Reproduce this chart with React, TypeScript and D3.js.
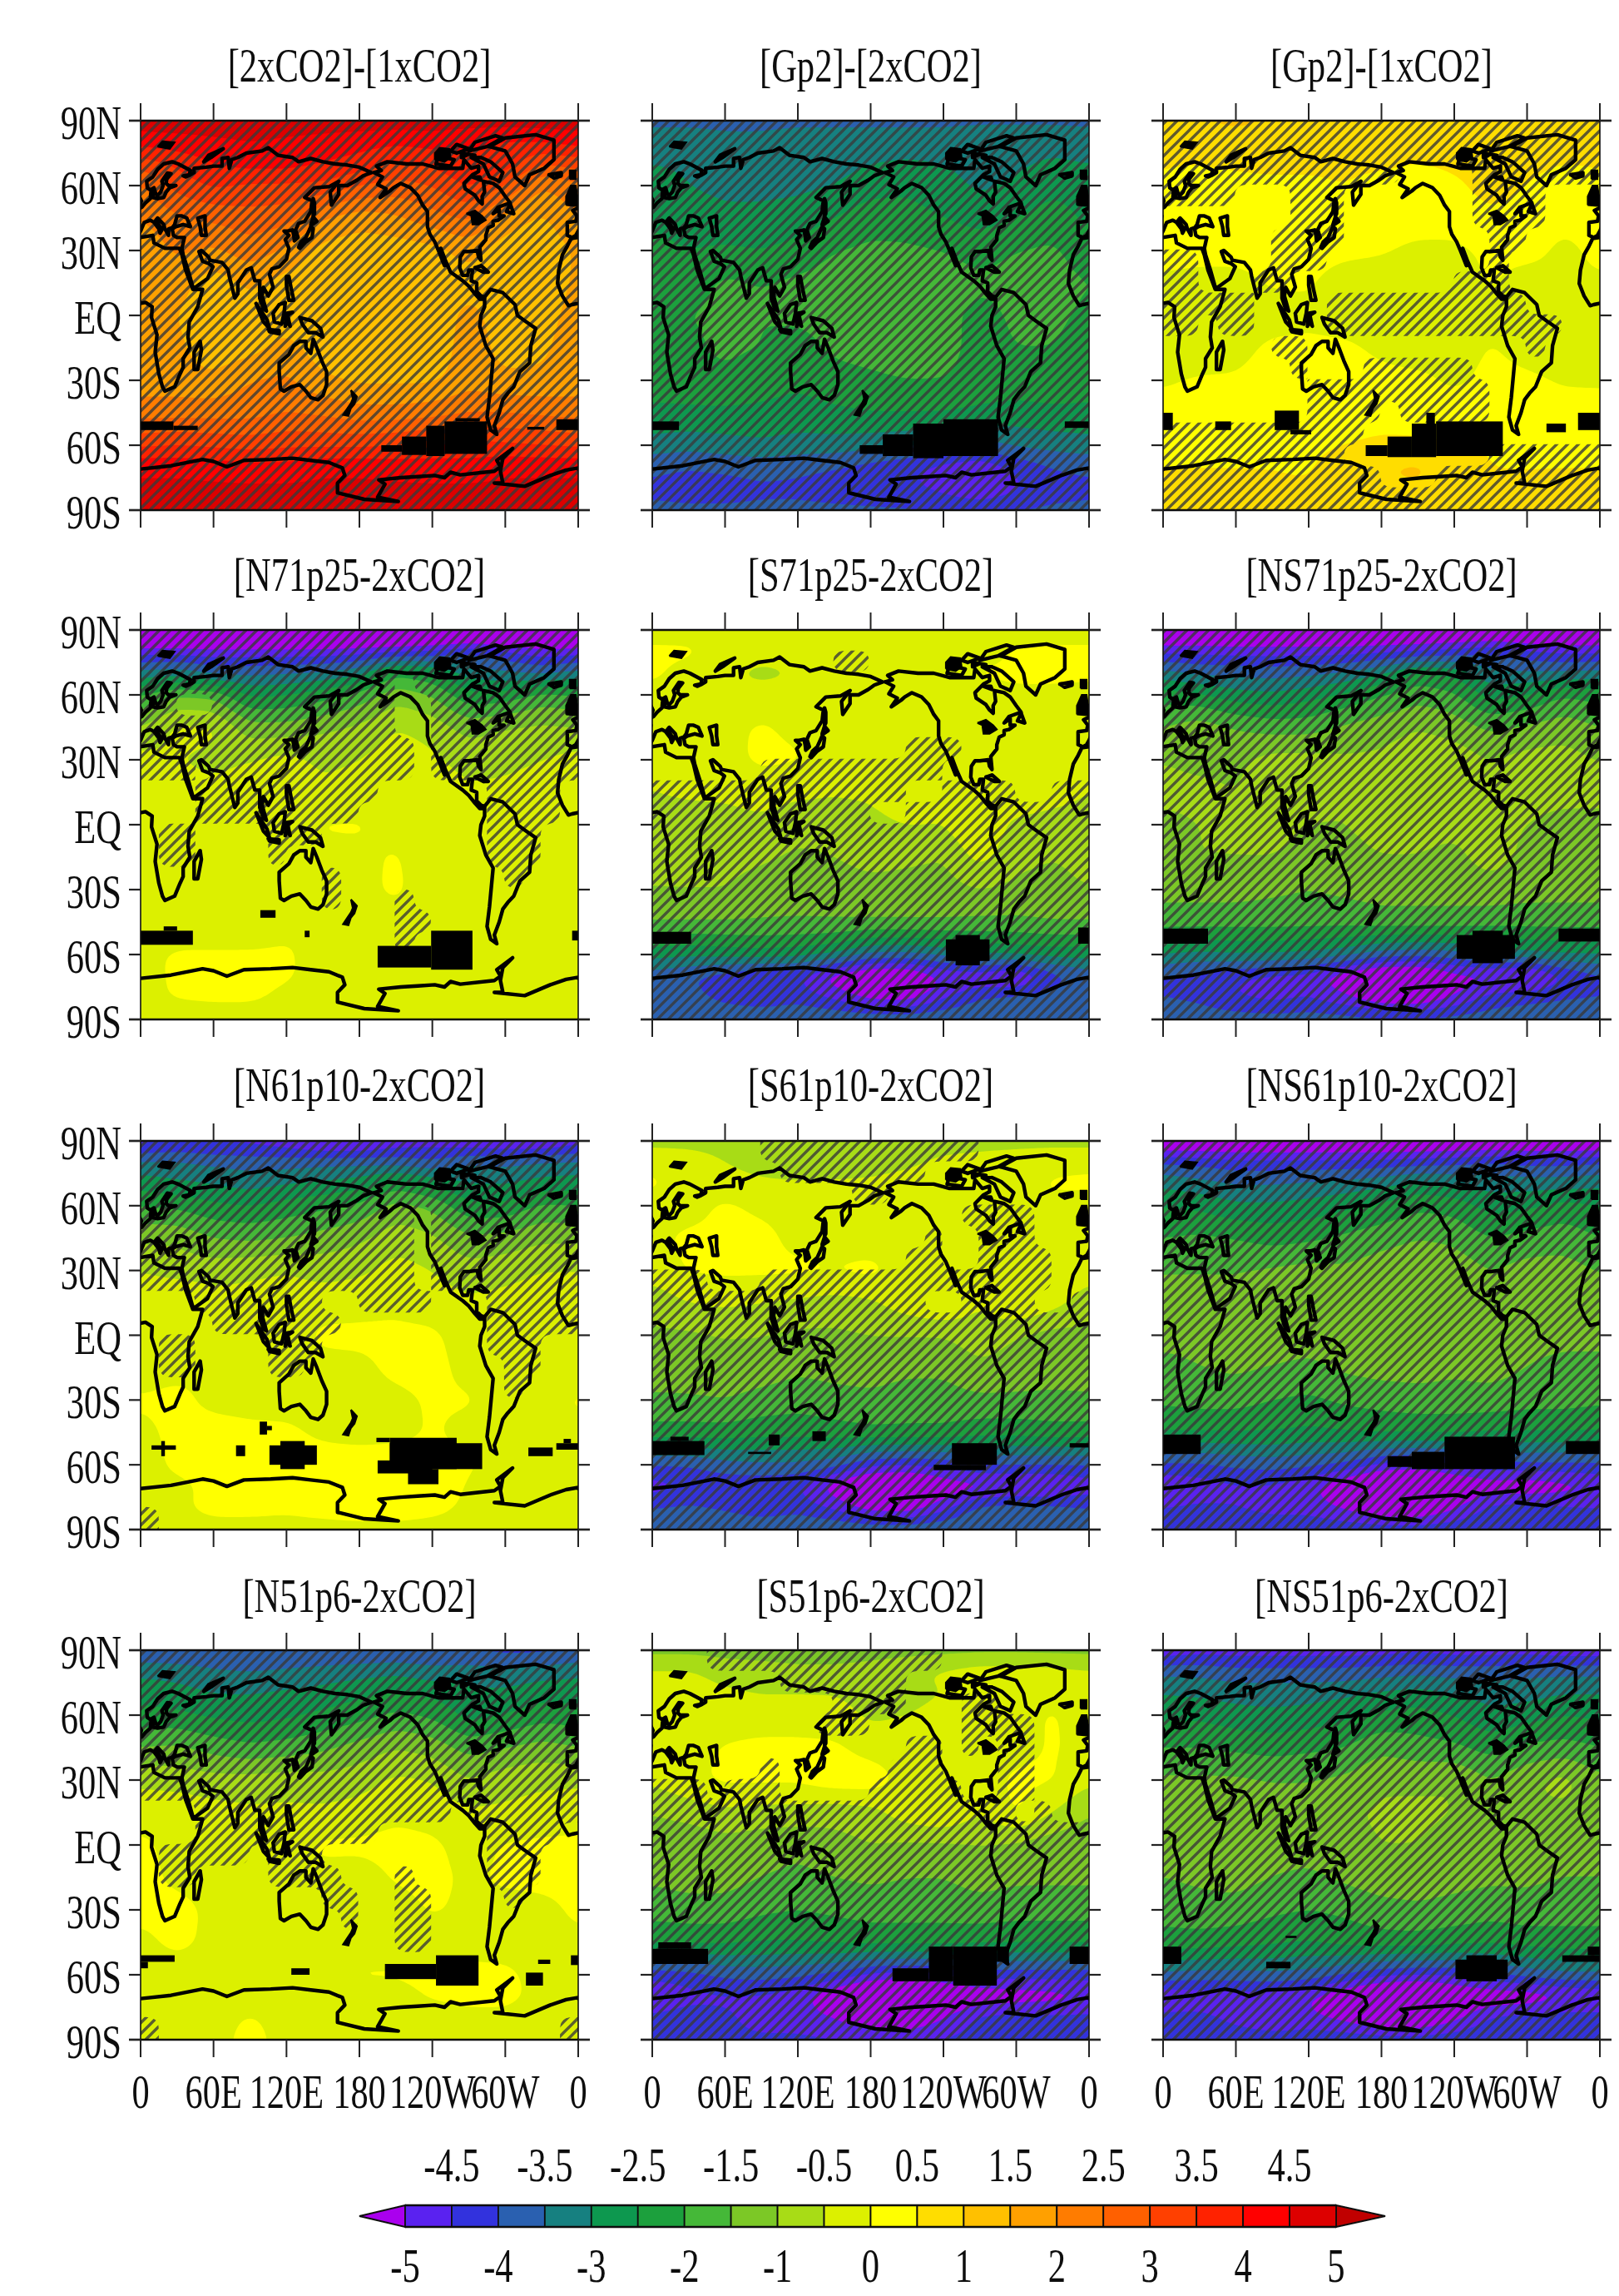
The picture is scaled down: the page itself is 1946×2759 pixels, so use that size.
import React from "react";
import * as d3 from "d3";

const TITLES = [
  "[2xCO2]-[1xCO2]", "[Gp2]-[2xCO2]", "[Gp2]-[1xCO2]",
  "[N71p25-2xCO2]", "[S71p25-2xCO2]", "[NS71p25-2xCO2]",
  "[N61p10-2xCO2]", "[S61p10-2xCO2]", "[NS61p10-2xCO2]",
  "[N51p6-2xCO2]", "[S51p6-2xCO2]", "[NS51p6-2xCO2]",
];
const X_TICKS = [0, 60, 120, 180, 240, 300, 360];
const X_LABELS = ["0", "60E", "120E", "180", "120W", "60W", "0"];
const Y_TICKS = [90, 60, 30, 0, -30, -60, -90];
const Y_LABELS = ["90N", "60N", "30N", "EQ", "30S", "60S", "90S"];
const LEVELS = [-5, -4.5, -4, -3.5, -3, -2.5, -2, -1.5, -1, -0.5, 0, 0.5, 1, 1.5, 2, 2.5, 3, 3.5, 4, 4.5, 5];
const BAND_COLORS = ["#aa00ee", "#5a20f0", "#3333dd", "#2a60b0", "#148080", "#0e9850", "#1aa03c", "#44b838", "#7cc828", "#a8dc18", "#dcf000", "#ffff00", "#ffdd00", "#ffc000", "#ffa000", "#ff7c00", "#ff6000", "#ff4000", "#ff2000", "#ff0000", "#dd0000", "#c00000"];
const BAR_BOTTOM = [-5, -4, -3, -2, -1, 0, 1, 2, 3, 4, 5];
const BAR_TOP = [-4.5, -3.5, -2.5, -1.5, -0.5, 0.5, 1.5, 2.5, 3.5, 4.5];

const LATS = [90, 80, 70, 60, 45, 30, 15, 0, -15, -30, -45, -60, -70, -80, -90];
const LONS = [0, 30, 60, 90, 120, 150, 180, 210, 240, 270, 300, 330];

const F1 = [
  [4.8,4.8,4.8,4.8,4.8,4.8,4.8,4.8,4.8,4.8,4.8,4.8],
  [4.2,4.3,4.4,4.5,4.4,4.3,4.2,4.1,4.2,4.0,3.9,4.0],
  [3.2,3.6,4,4.2,4.2,4.0,3.8,3.4,3.6,4.0,3.8,3.0],
  [2.4,3.2,3.6,3.4,3.4,3.4,3.0,2.8,3.0,3.6,3.0,2.0],
  [2.0,2.4,2.6,2.8,2.7,2.0,1.7,1.9,2.3,2.6,1.8,1.4],
  [1.6,2.1,1.9,2.3,1.9,1.3,1.2,1.2,1.3,1.7,1.2,1.1],
  [1.6,1.7,1.2,1.6,1.3,1.1,1.1,1.1,1.1,1.3,1.1,1.2],
  [1.7,1.5,1.2,1.3,1.2,1.1,1.1,1.1,1.1,1.7,1.2,1.3],
  [1.8,1.6,1.2,1.3,1.7,1.2,1.1,1.1,1.1,1.8,1.3,1.4],
  [1.7,1.7,1.6,2.0,2.1,1.6,1.4,1.4,1.4,1.8,1.6,1.6],
  [2.3,2.3,2.3,2.3,2.5,2.4,2.2,2.2,2.3,2.5,2.5,2.4],
  [3.4,3.5,3.4,3.3,3.4,3.4,3.4,3.5,3.7,3.7,3.6,3.5],
  [4.4,4.4,4.3,4.2,4.2,4.4,4.4,4.3,4.2,4.2,4.4,4.4],
  [4.6,4.6,4.6,4.6,4.6,4.6,4.6,4.6,4.6,4.6,4.6,4.6],
  [4.8,4.8,4.8,4.8,4.8,4.8,4.8,4.8,4.8,4.8,4.8,4.8],
];
const F2 = [
  [-3.6,-3.6,-3.6,-3.6,-3.6,-3.6,-3.6,-3.6,-3.6,-3.6,-3.6,-3.6],
  [-3.3,-3.3,-3.4,-3.4,-3.3,-3.3,-3.3,-3.3,-3.3,-3.2,-3.2,-3.2],
  [-3.0,-3.1,-3.2,-3.3,-3.3,-3.2,-3.0,-2.9,-3.0,-3.2,-3.1,-2.9],
  [-2.7,-3.0,-3.1,-3.1,-3.1,-3.0,-2.7,-2.6,-2.8,-3.1,-2.9,-2.6],
  [-2.6,-2.8,-2.9,-2.9,-2.8,-2.5,-2.2,-2.3,-2.5,-2.7,-2.5,-2.3],
  [-2.3,-2.5,-2.4,-2.5,-2.3,-2.0,-1.9,-1.9,-2.0,-2.2,-2.0,-1.9],
  [-2.0,-2.2,-1.9,-2.0,-1.9,-1.8,-1.8,-1.7,-1.7,-1.9,-1.8,-1.8],
  [-2.1,-2.0,-1.9,-2.0,-1.9,-1.8,-1.7,-1.7,-1.8,-2.2,-1.9,-1.9],
  [-2.2,-2.1,-1.9,-2.0,-2.2,-1.9,-1.8,-1.7,-1.8,-2.2,-2.0,-2.0],
  [-2.3,-2.2,-2.1,-2.3,-2.4,-2.2,-2.1,-2.0,-2.0,-2.2,-2.2,-2.2],
  [-2.6,-2.6,-2.6,-2.6,-2.7,-2.6,-2.5,-2.5,-2.5,-2.6,-2.7,-2.6],
  [-3.2,-3.3,-3.2,-3.1,-3.2,-3.2,-3.3,-3.4,-3.6,-3.7,-3.4,-3.3],
  [-3.9,-4.0,-3.9,-3.8,-3.9,-4,-4.2,-4.4,-4.7,-4.9,-4.4,-4.0],
  [-4.1,-4.2,-4.2,-4.1,-4.1,-4.2,-4.3,-4.4,-4.7,-5.2,-4.6,-4.2],
  [-3.9,-3.9,-3.9,-3.9,-3.9,-3.9,-3.9,-3.9,-3.9,-3.9,-3.9,-3.9],
];
const F3 = [
  [.9,1.0,1.1,1.0,.9,.9,.9,.8,.8,.8,.8,.9],
  [.7,.8,.8,.8,.7,.7,.7,.7,.6,.6,.7,.7],
  [.5,.5,.6,.7,.6,.6,.6,.5,.6,.7,.6,.5],
  [.5,.3,.3,.3,.4,.5,.3,.2,.4,.7,.5,.3],
  [.2,.2,.2,.2,.3,.3,.2,.2,.2,.4,.3,.1],
  [.1,.1,.1,.1,.15,.1,.05,-.1,-.1,.1,.15,-.1],
  [-.05,-.1,-.1,.05,.05,-.2,-.25,-.3,-.25,.05,-.2,-.1],
  [-.2,-.25,-.3,-.2,-.1,-.25,-.3,-.35,-.2,-.2,-.25,-.25],
  [-.25,-.25,-.15,.1,.1,.1,-.1,-.3,-.3,.05,-.2,-.3],
  [-.05,.05,.05,.2,.2,.2,.15,.15,-.1,.15,.1,-.05],
  [.15,.2,.2,.2,.25,.25,.3,.25,.25,.3,.25,.2],
  [.35,.35,.35,.35,.4,.5,.6,.6,.5,.45,.35,.35],
  [.5,.5,.5,.5,.45,.75,1.0,1.1,.8,.5,.5,.5],
  [.6,.6,.6,.55,.55,.7,.9,.95,.7,.55,.55,.6],
  [.6,.6,.6,.6,.6,.6,.6,.6,.6,.6,.6,.6],
];
const F4 = [
  [-6.5,-6.5,-6.5,-6.5,-6.5,-6.5,-6.5,-6.5,-6.5,-6.5,-6.5,-6.5],
  [-4.7,-4.7,-4.8,-4.8,-4.8,-4.8,-4.7,-4.6,-4.4,-4.0,-4.4,-4.8],
  [-3.3,-3.2,-3.6,-3.6,-3.5,-3.4,-3.1,-2.0,-2.4,-3.2,-3.4,-3.6],
  [-2.0,-1.5,-1.6,-2.6,-2.5,-2.2,-1.8,-1.2,-1.5,-2.4,-2.3,-1.8],
  [-1.0,-.35,-.4,-1.3,-1.3,-1.1,-.9,-.5,-.7,-1.2,-1.0,-.9],
  [-.3,-.5,-.6,-.5,-.3,-.6,-.5,-.2,-.4,-.7,-.6,-.5],
  [-.2,-.3,-.4,-.3,-.3,-.4,-.3,-.2,-.2,-.4,-.4,-.3],
  [-.2,-.25,-.3,-.25,-.2,.05,.05,-.15,-.2,-.25,-.25,-.2],
  [.05,-.25,-.25,-.25,-.2,-.15,-.1,.05,-.25,-.3,-.25,-.2],
  [-.2,-.25,-.25,-.25,-.25,-.2,-.15,.1,-.3,-.25,-.2,-.2],
  [-.25,-.25,-.25,-.25,-.1,.05,-.2,-.2,-.2,-.2,-.25,-.25],
  [-.1,.05,.05,.05,.05,-.15,-.2,-.2,-.2,-.1,.05,-.15],
  [-.1,.05,.1,.1,.05,-.15,-.2,-.2,-.2,-.2,-.2,-.2],
  [-.15,.05,.1,.1,-.1,-.2,-.2,-.25,-.25,-.25,-.25,-.2],
  [-.3,-.3,-.3,-.3,-.3,-.3,-.3,-.3,-.3,-.3,-.3,-.3],
];
const F5 = [
  [-.2,-.2,-.2,-.2,-.2,-.2,-.2,-.2,-.2,-.2,-.2,-.2],
  [.1,.1,-.15,-.2,-.2,-.2,-.2,-.2,-.2,-.2,.05,.1],
  [.1,-.2,-.4,-.7,-.5,-.4,-.5,-.3,-.15,.05,.1,.1],
  [-.15,-.2,-.3,-.2,-.2,-.25,-.2,-.2,-.2,-.2,-.1,-.1],
  [-.3,-.2,-.1,.05,-.1,-.2,-.2,-.2,-.2,-.3,-.2,-.2],
  [-.4,-.3,-.15,.1,.05,-.25,-.3,-.2,-.2,-.3,-.2,-.15],
  [-.5,-.4,-.4,-.3,-.4,-.45,-.4,.05,-.3,-.45,.1,-.2],
  [-.8,-.8,-.7,-.6,-.8,-.8,-.7,-.5,-.5,.1,-.7,-.8],
  [-.9,-.8,-.8,-.9,-1.1,-1,-.8,-.9,-1,-.3,-.9,-1],
  [-1.0,-1,-1,-1.3,-1.4,-1.3,-1.2,-1.2,-1.2,-1,-1.1,-1.1],
  [-1.5,-1.5,-1.5,-1.5,-1.5,-1.5,-1.5,-1.5,-1.5,-1.6,-1.6,-1.5],
  [-2.8,-2.9,-2.8,-2.7,-2.8,-3,-3.6,-3.6,-3.4,-3,-2.9,-2.8],
  [-3.8,-4.0,-4.3,-4.6,-4.5,-5.4,-5.8,-5.8,-5.0,-5.0,-5.3,-4.3],
  [-3.7,-3.8,-4.2,-4.4,-4.2,-4.6,-5.2,-5.3,-4.6,-4,-3.8,-3.7],
  [-3.5,-3.5,-3.5,-3.5,-3.5,-3.5,-3.5,-3.5,-3.5,-3.5,-3.5,-3.5],
];
const F6 = [
  [-6,-6,-6,-6,-6,-6,-6,-6,-6,-6,-6,-6],
  [-4.6,-4.6,-4.7,-4.7,-4.7,-4.7,-4.6,-4.5,-4.3,-4.0,-4.4,-4.6],
  [-3.3,-3.6,-3.6,-3.7,-3.6,-3.4,-3.0,-2.3,-2.6,-3.4,-3.4,-3.4],
  [-2.2,-2.4,-2.8,-2.9,-2.7,-2.4,-2,-1.7,-1.9,-2.7,-2.5,-2],
  [-1.5,-1.2,-1.5,-1.7,-1.7,-1.4,-1.2,-1,-1.2,-1.6,-1.4,-1.2],
  [-1,-1.1,-1.1,-.8,-.8,-.9,-.9,-.7,-.7,-1,-.8,-.8],
  [-.9,-.9,-1,-.8,-.9,-1,-.9,-.7,-.8,-1,-.9,-.9],
  [-1.1,-1,-.9,-.8,-1,-1,-.9,-.9,-.9,-.9,-1,-1.1],
  [-1.1,-1,-1,-1,-1.2,-1.1,-1,-1,-1.1,-.8,-1.1,-1.1],
  [-1.3,-1.3,-1.3,-1.4,-1.5,-1.4,-1.3,-1.3,-1.3,-1.2,-1.3,-1.3],
  [-1.8,-1.8,-1.8,-1.8,-1.8,-1.8,-1.7,-1.7,-1.7,-1.8,-1.8,-1.8],
  [-3,-3.1,-3,-3,-3.1,-3.3,-3.7,-3.8,-3.7,-3.3,-3.1,-3],
  [-4.1,-4.3,-4.5,-4.7,-4.8,-5.5,-6,-6,-5.3,-5.2,-5.5,-4.6],
  [-4,-4.1,-4.5,-4.7,-4.5,-4.9,-5.5,-5.6,-5,-4.3,-4.1,-4],
  [-3.7,-3.7,-3.7,-3.7,-3.7,-3.7,-3.7,-3.7,-3.7,-3.7,-3.7,-3.7],
];
const F7 = [
  [-4.8,-4.6,-4.7,-4.7,-4.9,-5.3,-5.3,-4.9,-4.8,-5,-5.1,-5.2],
  [-3.4,-3.4,-3.6,-3.7,-3.7,-3.6,-3.6,-3.7,-3.9,-3.5,-3.6,-3.4],
  [-2.7,-2.9,-3,-3.2,-3,-2.9,-2.7,-2.2,-2.6,-3,-3,-2.8],
  [-2,-2.1,-2.4,-2.5,-2.3,-2.1,-1.9,-1.3,-1.6,-2.4,-2.4,-1.9],
  [-1.1,-1.1,-1.5,-1.6,-1.5,-1.3,-1.1,-.7,-.9,-1.4,-1.3,-1.1],
  [-.5,-.7,-.7,-.6,-.5,-.7,-.6,-.3,-.5,-.8,-.7,-.5],
  [-.15,.05,-.3,-.3,-.25,-.2,-.15,-.1,-.25,-.4,-.3,-.2],
  [-.2,-.1,-.2,-.25,-.2,.1,.1,.1,.1,-.25,-.25,-.2],
  [-.2,-.1,-.05,-.15,-.2,-.15,-.1,.1,.15,-.15,-.2,-.2],
  [.05,.1,-.1,-.15,-.2,-.2,-.15,-.1,.05,.05,-.2,-.1],
  [-.1,.1,.15,.1,.1,-.1,-.2,-.15,.05,-.15,-.2,-.1],
  [-.2,.1,.15,.15,.2,.25,.3,.3,.2,.05,-.15,-.2],
  [-.2,-.1,.1,.1,.1,.2,.4,.5,.3,-.05,-.2,-.25],
  [-.2,-.1,.15,.15,.1,.2,.3,.3,.15,-.1,-.2,-.2],
  [-.2,-.2,-.2,-.2,-.2,-.2,-.2,-.2,-.2,-.2,-.2,-.2],
];
const F8 = [
  [-.7,-.7,-.7,-.7,-.7,-.7,-.7,-.7,-.7,-.7,-.7,-.7],
  [-.1,-.2,-.5,-.7,-.9,-.8,-.7,-.6,-.4,-.3,-.2,-.1],
  [.1,-.2,-.3,-.4,-.4,-.4,-.4,-.3,-.2,-.2,-.1,.05],
  [-.2,-.2,.1,-.1,-.2,-.3,-.3,-.2,-.2,-.5,-.1,-.1],
  [-.1,.1,.1,.15,-.15,-.25,-.25,-.25,-.2,-.4,-.2,-.2],
  [-.3,.05,.1,.1,.1,.05,.15,-.2,-.2,-.3,-.2,.05],
  [-.8,-.5,-.4,-.5,-.6,-.7,-.6,-.2,.1,-.5,.1,-.3],
  [-1.1,-1.1,-1,-1,-1.1,-1.1,-1,-1,-1,-.7,-1,-1.2],
  [-1.2,-1.1,-1.1,-1.2,-1.4,-1.3,-1.3,-1.4,-1.4,-1.1,-1.2,-1.3],
  [-1.6,-1.6,-1.5,-1.7,-1.8,-1.7,-1.6,-1.7,-1.7,-1.6,-1.6,-1.6],
  [-2.2,-2.2,-2.2,-2.3,-2.3,-2.2,-2.1,-2.1,-2.1,-2.3,-2.3,-2.2],
  [-4.0,-4,-3.7,-3.6,-3.6,-3.8,-4.4,-4.5,-4.4,-4.0,-4,-4],
  [-4.8,-4.5,-4.4,-4.4,-4.5,-5.4,-6,-6,-5.4,-5.3,-5.2,-5.2],
  [-4,-3.9,-4.1,-4.4,-4.2,-4.6,-5.3,-5.4,-4.7,-3.8,-3.7,-3.8],
  [-3.5,-3.5,-3.5,-3.5,-3.5,-3.5,-3.5,-3.5,-3.5,-3.5,-3.5,-3.5],
];
const F9 = [
  [-5.8,-5.8,-5.8,-5.8,-5.8,-5.8,-5.8,-5.8,-5.8,-5.8,-5.8,-5.8],
  [-4,-4.1,-4.3,-4.3,-4.3,-4.3,-4.3,-4.2,-4.1,-3.9,-4.1,-4.1],
  [-3.1,-3.3,-3.5,-3.5,-3.4,-3.3,-3.1,-2.8,-3,-3.2,-3.2,-3.2],
  [-2.5,-2.6,-2.9,-2.9,-2.8,-2.6,-2.4,-2.1,-2.2,-2.7,-2.6,-2.3],
  [-2,-1.9,-2,-2.2,-2.1,-1.9,-1.7,-1.5,-1.6,-2,-1.8,-1.7],
  [-1.5,-1.5,-1.5,-1.4,-1.3,-1.4,-1.2,-1.1,-1.2,-1.5,-1.3,-1.3],
  [-1.4,-1.4,-1.4,-1.4,-1.3,-1.4,-1.3,-1.2,-1.2,-1.3,-1.3,-1.4],
  [-1.4,-1.4,-1.4,-1.3,-1.3,-1.3,-1.3,-1.2,-1.3,-1.3,-1.4,-1.4],
  [-1.6,-1.5,-1.4,-1.5,-1.6,-1.4,-1.3,-1.3,-1.4,-1.3,-1.5,-1.6],
  [-1.9,-1.8,-1.8,-2,-2.1,-1.9,-1.8,-1.7,-1.7,-1.7,-1.8,-1.8],
  [-2.5,-2.5,-2.5,-2.5,-2.6,-2.5,-2.4,-2.4,-2.4,-2.5,-2.5,-2.5],
  [-4.1,-4.1,-3.9,-3.8,-3.9,-4.1,-4.6,-4.7,-4.5,-4.2,-4.1,-4.1],
  [-5,-4.8,-4.6,-4.6,-4.9,-5.6,-6.2,-6.2,-5.6,-5.4,-5.5,-5.3],
  [-4.5,-4.4,-4.5,-4.7,-4.7,-5.1,-5.6,-5.7,-5.1,-4.3,-4.2,-4.4],
  [-4.1,-4.1,-4.1,-4.1,-4.1,-4.1,-4.1,-4.1,-4.1,-4.1,-4.1,-4.1],
];
const F10 = [
  [-4,-4,-4,-4,-4,-4,-4,-4,-4,-4.1,-4.2,-4.2],
  [-3.1,-3.2,-3.4,-3.5,-3.4,-3.3,-3.2,-3.1,-3.3,-3.2,-3.3,-3.2],
  [-2.7,-2.8,-3,-3,-2.9,-2.8,-2.6,-2.4,-2.6,-2.9,-2.9,-2.7],
  [-2.3,-2.4,-2.6,-2.7,-2.6,-2.4,-2.2,-1.9,-2.1,-2.7,-2.5,-2.2],
  [-1.5,-1.4,-1.7,-1.9,-1.8,-1.6,-1.3,-1,-1.2,-1.7,-1.5,-1.3],
  [-.6,-.7,-.8,-.8,-.7,-.8,-.7,-.4,-.5,-1,-.7,-.6],
  [-.2,-.15,-.3,-.4,-.4,-.4,-.3,-.1,-.2,-.4,-.4,-.3],
  [.1,-.15,-.25,-.25,-.15,.1,.1,.15,.1,-.2,.05,.1],
  [.15,-.1,-.2,-.25,-.2,-.15,-.2,.05,.15,-.1,.1,.15],
  [.1,.15,-.1,-.2,-.2,-.2,-.15,-.2,.05,-.1,-.2,-.15],
  [-.1,.1,-.1,-.2,-.2,-.2,-.2,-.2,-.2,-.2,-.2,-.2],
  [-.2,-.2,-.2,-.2,-.2,-.2,.05,.05,.1,.15,.1,-.15],
  [-.2,-.2,-.2,-.2,-.2,-.2,-.2,-.15,.05,.1,.1,-.1],
  [-.2,-.2,-.15,.05,-.15,-.2,-.2,-.2,-.2,-.1,-.1,-.2],
  [-.2,-.2,-.1,.1,-.1,-.2,-.2,-.2,-.2,-.2,-.2,-.2],
];
const F11 = [
  [-1.2,-1.2,-1.2,-1.2,-1.2,-1.2,-1.2,-1.2,-1.2,-1.2,-1.2,-1.2],
  [-.4,-.4,-.7,-.8,-.9,-.9,-.8,-.6,-.4,-.2,-.2,-.3],
  [-.3,-.3,-.4,-.5,-.5,-.5,-.7,-.7,-.5,-.3,-.2,-.1],
  [-.2,-.2,-.3,-.3,-.2,-.3,-.6,-.5,-.3,-.6,-.15,.05],
  [-.15,-.2,.05,.15,.1,.1,-.2,-.2,-.2,-.3,-.15,.05],
  [-.4,-.1,.1,.1,.1,.3,.3,-.2,-.2,-.2,.1,.05],
  [-1,-.8,-.6,-.7,-.7,-.8,-.7,-.2,.05,-.5,.1,-.5],
  [-1.3,-1.4,-1.2,-1.3,-1.4,-1.2,-1,-1.1,-1.1,-1,-1.1,-1.3],
  [-1.4,-1.3,-1.3,-1.5,-1.6,-1.5,-1.4,-1.5,-1.5,-1.3,-1.4,-1.4],
  [-1.8,-1.7,-1.7,-1.9,-2,-1.9,-1.8,-1.8,-1.8,-1.7,-1.8,-1.8],
  [-2.4,-2.4,-2.4,-2.5,-2.5,-2.4,-2.3,-2.3,-2.3,-2.4,-2.4,-2.4],
  [-4.3,-4.2,-3.9,-3.8,-3.9,-4.1,-4.6,-4.7,-4.6,-4.3,-4.3,-4.3],
  [-5.1,-4.7,-4.6,-4.6,-4.8,-5.6,-6.2,-6.2,-5.7,-5.5,-5.4,-5.3],
  [-4.3,-4.2,-4.4,-4.7,-4.7,-5,-5.6,-5.7,-5,-4.3,-4.2,-4.3],
  [-4.4,-4.4,-4.4,-4.4,-4.4,-4.4,-4.4,-4.4,-4.4,-4.4,-4.4,-4.4],
];
const F12 = [
  [-4.9,-4.8,-4.8,-4.8,-4.8,-4.8,-4.8,-4.7,-4.8,-4.8,-4.8,-4.9],
  [-3.6,-3.6,-3.8,-3.8,-3.8,-3.8,-3.7,-3.6,-3.7,-3.7,-3.6,-3.6],
  [-3.0,-3.1,-3.2,-3.2,-3.2,-3.1,-2.9,-2.8,-3,-3.2,-3.2,-3],
  [-2.6,-2.6,-2.8,-2.9,-2.8,-2.6,-2.4,-2.3,-2.5,-2.9,-2.7,-2.5],
  [-2,-2,-2.1,-2.2,-2.1,-2,-1.6,-1.8,-1.9,-2.2,-1.9,-1.8],
  [-1.4,-1.4,-1.4,-1.5,-1.5,-1.4,-1.1,-1.1,-1.0,-1.5,-1.1,-.8],
  [-1.2,-1.2,-1.2,-1.3,-1.3,-1.1,-.9,-.9,-1.0,-1.2,-1.1,-1.1],
  [-1.3,-1.3,-1.3,-1.3,-1.3,-1.2,-1,-1,-1.2,-1.2,-1.3,-1.3],
  [-1.5,-1.4,-1.3,-1.5,-1.6,-1.4,-1.2,-1.2,-1.3,-1.4,-1.4,-1.5],
  [-1.8,-1.7,-1.7,-1.9,-2,-1.9,-1.7,-1.6,-1.7,-1.8,-1.7,-1.8],
  [-2.2,-2.2,-2.3,-2.4,-2.5,-2.3,-2.2,-2.2,-2.3,-2.4,-2.3,-2.2],
  [-3.6,-3.7,-3.7,-3.6,-3.7,-4,-4.4,-4.5,-4.5,-4.1,-3.8,-3.6],
  [-5,-4.9,-4.8,-4.8,-5,-5.6,-6.1,-6.2,-5.6,-5.5,-5.5,-5.2],
  [-4.3,-4.3,-4.7,-5.1,-4.9,-5.2,-5.7,-5.8,-5.2,-4.4,-4.2,-4.2],
  [-4.1,-4.1,-4.1,-4.1,-4.1,-4.1,-4.1,-4.1,-4.1,-4.1,-4.1,-4.1],
];
const FIELDS = [F1, F2, F3, F4, F5, F6, F7, F8, F9, F10, F11, F12];

// significance hatching, rows 85..-85 by 10 degrees, columns every 15 degrees from 0E
const ALL = "111111111111111111111111";
const NONE = "000000000000000000000000";
const M_FULL = [ALL, ALL, ALL, ALL, ALL, ALL, ALL, ALL, ALL, ALL, ALL, ALL, ALL, ALL, ALL, ALL, ALL, ALL];
const M3 = [ALL, ALL, "111111111111100001111111", "111100011100000001111000", "000000011100000001111000", "000000111100000000110000", "110000111000000000100000", "110001100000000011100000", "111110000111111111110000", "110110000111111111111100", "000000110000000000001000", "000000010001111110000000", "000000001111111111000000", "000000001111011111000000", "111111111110000000000000", "111111111100000000111111", "111111111111000111111111", ALL];
const M4 = [ALL, ALL, "111111111111110111111111", "110011111111110011111111", "111111111111110011111111", "111111111111111011111111", "111011111111111011111111", "000111111111100000011110", "000111111111000000011110", "011000011100000000011100", "011000010000000000011100", "000000000010000000001000", "000000000010001000000000", "000000000000001100000000", "000000000000001000000000", NONE, NONE, NONE];
const M5 = [NONE, "000000000011000000000000", NONE, NONE, NONE, "000000000000001110000000", "000000111111111100000000", "111111111111110011110011", "111111111111001111111111", ALL, ALL, ALL, ALL, ALL, ALL, ALL, ALL, ALL];
const M7 = [ALL, ALL, ALL, "111111111111111011111111", "111111111111111011111111", "111111111111111011111111", "111111111111111011111111", "000111111100111100011111", "000011111110000000011111", "011000011100000000011100", "011000011000000000001100", "000000000000000000001000", NONE, NONE, NONE, NONE, NONE, "100000000000000000000000"];
const M8 = ["000000111111111111000000", "000000011111111000000000", "000000000001100000000000", "000000000000000001111000", "000000000000000100111000", "000000000000001100111100", "111000111111111111111100", "111111111111111001111001", ALL, ALL, ALL, ALL, ALL, ALL, ALL, ALL, ALL, ALL];
const M10 = [ALL, ALL, ALL, ALL, ALL, ALL, ALL, "000111111111111110111111", "000111111111100000011110", "011111011100000000011100", "011000011110001000011100", "000000000011001100001000", "000000000001001100000000", "000000000000001100000000", NONE, NONE, NONE, "100000000000000000000001"];
const M11 = ["000111111111111100000000", "000000011111110000000000", "000000000011110001100000", "000000000111000001111000", "000000000000001101011000", "000000100000011100011000", "111011100000111110011000", "111111111111111111110100", ALL, ALL, ALL, ALL, ALL, ALL, ALL, ALL, ALL, ALL];
const MASKS = [M_FULL, M_FULL, M3, M4, M5, M_FULL, M7, M8, M_FULL, M10, M11, M_FULL];

// black missing-data blocks: [lon0, lon1, lat0, lat1]
const B1 = [[0,27,-49,-53],[27,47,-51,-53],[198,215,-60,-63],[215,235,-56,-64.5],[235,250,-51,-65],[250,285,-49,-64],[259,279,-47.5,-49],[318,332,-51.5,-52.8],[342,360,-48,-53]];
const B2 = [[0,22,-49,-53],[171,190,-60,-64],[190,215,-55,-65],[215,240,-50,-66],[240,285,-48,-65],[340,360,-49,-52]];
const B3 = [[176,190,41,47],[0,8,-45,-53],[43,56,-49,-53],[92,112,-44,-53],[105,122,-53,-55],[167,185,-60,-65],[185,205,-56,-65.5],[205,225,-50,-65.5],[217,224,-45,-50],[225,280,-49,-65],[316,332,-50,-54],[342,360,-45,-53]];
const B4 = [[0,43,-49,-55.5],[19,30,-47,-49],[98.5,111,-39.5,-43],[135,139,-49,-52],[195,239,-56,-66],[239,273,-49,-67],[355,360,-49,-53.5]];
const B5 = [[0,32,-49.5,-55],[242,278,-53,-63],[250,270,-51,-65],[351,360,-47.5,-55]];
const B6 = [[0,37,-48,-55],[242,290,-51,-62],[255,280,-49,-64],[326,360,-48,-54]];
const B7 = [[9,29,-51,-53],[17,20,-49,-56],[78.5,86,-51,-56],[98,104,-40,-46],[104,108,-42,-44],[106,145,-51,-60],[115,135,-49,-62],[194,205,-47.5,-49.5],[205,260,-47.5,-62],[205,281,-50,-62],[195,240,-58,-64],[220,245,-62,-69],[319,339,-52,-56],[342,360,-50,-53],[348,354,-48,-50]];
const B8 = [[0,43,-49,-55.5],[15,30,-47,-49],[79,98,-54,-55],[96,105,-46,-51],[132,143,-44.5,-49],[247,284,-50,-60],[232,275,-60,-62.5],[344,360,-50,-52]];
const B9 = [[0,31,-46,-55],[185,205,-56,-61],[205,232,-54,-62],[232,290,-47,-62],[332,360,-49,-55]];
const B10 = [[0,28,-51,-54],[0,6,-54,-57],[124,139,-57,-60],[201,243,-55,-62],[243,278,-51,-65],[327,337,-53,-55],[317,331,-59,-65],[354,360,-51,-55.5]];
const B11 = [[0,46,-48,-55],[5,32,-45,-48],[198,228,-57,-63],[228,248,-47,-63],[248,284,-47,-65],[284,294,-47,-54],[344,360,-47,-55]];
const B12 = [[0,15,-47,-55],[85,105,-54,-57],[101,110,-42,-43],[241,284,-53,-62],[250,275,-51,-63],[329,360,-51,-54],[350,360,-47,-51]];
const BLOCKS = [B1, B2, B3, B4, B5, B6, B7, B8, B9, B10, B11, B12];

// coastlines in degrees
const EURASIA = [[-9,37],[-9,43],[-2,43.5],[-1,46],[-4.5,48.5],[1,50],[4,52],[8,54],[8.5,57],[10.5,57],[10,54.5],[14,54],[19,54.5],[21,57],[24,59],[29,60],[23,60],[21,61],[21.5,63],[25,65.5],[22,65.8],[17.5,62],[18.5,60],[16.5,57],[14,55.5],[12.5,56],[11,59],[8,58],[5.5,59],[5,62],[10,64],[14,67.5],[19,70],[26,71],[31,70],[41,67],[40,65],[35,64.5],[37,64],[40,64.7],[44,66],[44,68],[54,68.5],[60,69],[67,69],[67,72.5],[72,73],[73,68],[75,72],[80,73],[87,75],[100,76],[105,77.5],[113,74],[125,73],[130,71],[140,72.5],[150,71],[160,70],[170,69.5],[180,68.5],[190,66],[183,64.5],[178,62.5],[170,60],[163,60],[163,56],[157,51],[156,57],[163,62],[155,59.5],[143,59],[135,54.5],[141,53],[140,48],[135,43.5],[130,42.5],[127.5,39.5],[129.5,36],[126.5,34.5],[126,37],[125,39.5],[121,39],[118,39],[122,37],[119,35],[122,31],[120,26],[114,22.5],[108,21.5],[106,19],[109,13],[105,9],[101,13],[100,9],[103.5,2],[101,3],[98,8],[98,16],[94,16],[91,22],[87,21],[80,15],[80,10],[77.5,8],[73,18],[72,21],[67,24.5],[57,25.5],[56,27],[50,30],[48,29.5],[51,25],[56,24],[59.5,22.5],[55,17],[45,13],[43,13],[39,21],[35,28],[34,31],[36,36],[30,36],[27,37],[26,40],[29,41],[35,42],[41,41],[38,45],[34,46],[30,46],[28,42],[26,40.5],[23,40],[23,37],[20,40],[19,42],[14,45],[12.5,44],[16,41],[18,40],[16,38],[15,40],[11,43],[8,44],[3,43],[0,39],[-2,37],[-5,36],[-9,37]];
const AFRICA = [[-6,35.5],[10,37],[11,33.5],[20,31],[32,31],[34,28],[37,21],[43,12],[51,12],[47,4],[40,-3],[39,-10],[40.5,-15],[35,-20],[35,-24],[32.5,-27],[28,-33],[20,-35],[18,-33],[15,-27],[12,-17],[13.5,-9],[9,-1],[9.5,4],[4,6],[-5,5],[-8,4.5],[-13,9],[-17,14.7],[-16,21],[-13,28],[-9,32],[-6,35.5]];
const N_AMERICA = [[-168,66],[-162,67],[-166,69],[-157,71],[-141,70],[-128,70],[-115,68],[-108,68],[-95,68],[-94,72],[-88,68],[-82,69],[-82,66.5],[-87,65],[-94,61],[-93,58.5],[-85,55.5],[-82,53],[-79,51.5],[-79,55],[-77,57],[-78,62],[-70,61],[-65,59],[-60,55],[-56,52],[-66,50],[-70,47],[-65,49],[-65,46],[-61,46],[-66,44],[-70,43.5],[-70,41.5],[-74,40.5],[-76,37],[-76,35],[-81,31.5],[-80,25.5],[-82,27],[-83,30],[-90,29.5],[-94,29.5],[-97,27],[-97.5,22],[-95,18.5],[-91,18.5],[-90,21],[-87,21],[-88,16],[-83.5,15],[-83.5,11],[-80,9],[-77,8.5],[-78,7.5],[-81,7.5],[-85,10],[-90,13.5],[-95,16],[-105,20],[-109,25],[-113,31],[-110,23],[-115,30],[-118,34],[-122,37.5],[-124,41],[-124,48],[-128,51],[-132,55.5],[-138,59],[-146,61],[-152,59],[-155,57.5],[-163,54.5],[-158,58.5],[-165,60.5],[-161,64],[-168,66]];
const S_AMERICA = [[-77,8.5],[-72,12],[-62,10.5],[-52,5],[-50,0],[-44,-2.5],[-35,-6],[-39,-14],[-40,-22],[-48,-26],[-53,-33],[-58,-36],[-62,-39],[-65,-45],[-69,-51],[-67,-55],[-72,-53],[-75,-47],[-73,-38],[-70,-20],[-76,-14],[-81,-5],[-80,0],[-77,4],[-77,8.5]];
const GREENLAND = [[-73,78],[-60,82],[-35,83.5],[-20,81],[-20,72],[-28,68],[-40,65],[-44,60],[-52,64],[-54,70],[-60,76],[-73,78]];
const BAFFIN = [[-80,73],[-72,71],[-62,66],[-65,62],[-73,64],[-78,70],[-88,73],[-80,73]];
const ELLESMERE = [[-90,76],[-85,80],[-68,83],[-62,82],[-75,78],[-90,76]];
const VICTORIA = [[-117,70],[-105,69],[-102,72],[-115,73.5],[-117,70]];
const DEVON = [[-96,73],[-90,74.5],[-85,74],[-96,75],[-96,73]];
const SOUTHAMPTON = [[-87,64],[-81,64],[-80,62.5],[-87,64]];
const MELVILLE = [[-100,75],[-90,77],[-100,79],[-105,76],[-100,75]];
const NEWFOUNDLAND = [[-59,48],[-56,51.5],[-53,47],[-59,48]];
const CASPIAN = [[47,45],[53,46],[53,41],[54,37],[50,37],[49,41],[47,45]];
const ICELAND = [[-24,65],[-14,66],[-14,64.5],[-20,63.5],[-24,65]];
const JAPAN = [[130,31.5],[132,34],[136,36],[140,41],[142,40],[141,36],[136,34],[131,31],[130,31.5]];
const HOKKAIDO = [[140,42],[142,45.5],[145,43.5],[141,42]];
const SAKHALIN = [[142,46],[142,54],[143,52],[143,47],[142,46]];
const PHILIPPINES = [[120,18],[122,18],[124,12],[126,7],[122,7],[120,14],[120,18]];
const BORNEO = [[109,1],[114,5],[119,6],[118,1],[116,-4],[110,-3],[109,1]];
const SUMATRA = [[95,5.5],[104,-2],[106,-6],[101,-3],[95,5.5]];
const JAVA = [[105,-6.5],[114,-7],[114,-8.5],[106,-7.5],[105,-6.5]];
const SULAWESI = [[119,-5],[120,1],[125,1.5],[121,0],[123,-5],[121,-3],[119,-5]];
const NEW_GUINEA = [[131,-1],[141,-2.5],[148,-6],[150,-10],[144,-8],[138,-8],[133,-4],[131,-1]];
const AUSTRALIA = [[114,-22],[122,-18],[126,-14],[131,-12],[136,-12],[136,-15],[140,-17.5],[142,-11],[145,-15],[149,-21],[153,-26],[153,-32],[150,-37],[146,-39],[140,-38],[136,-35],[131,-32],[124,-33],[118,-35],[115,-34],[114,-26],[114,-22]];
const MADAGASCAR = [[49,-12],[50,-16],[47,-25],[44,-25],[44,-17],[49,-12]];
const CUBA = [[-85,22],[-80,23],[-74,20],[-78,20],[-85,22]];
const NOVAYA = [[52,71],[56,74],[68,77],[58,73],[52,71]];
const ANTARCTICA = [[0,-71],[25,-69.5],[51,-66.6],[60,-67.5],[71,-70],[85,-67],[107,-66.6],[125,-66],[140,-67],[155,-68],[166,-70.5],[168,-74],[162,-77.5],[162,-82],[184,-85],[212,-86],[195,-84],[201,-78],[196,-76],[214,-75],[228,-74.5],[242,-74],[250,-75],[255,-72.5],[263,-73.7],[291,-72],[296,-70],[293,-67],[306,-61.5],[298,-66],[296,-72],[298,-77.5],[291,-77.5],[316,-79],[337,-74],[350,-71.5],[360,-70.5]];
const COASTS = [EURASIA, AFRICA, N_AMERICA, S_AMERICA, GREENLAND, BAFFIN, ELLESMERE, VICTORIA, DEVON, SOUTHAMPTON, MELVILLE, NEWFOUNDLAND, CASPIAN, ICELAND, JAPAN, HOKKAIDO, SAKHALIN, PHILIPPINES, BORNEO, SUMATRA, JAVA, SULAWESI, NEW_GUINEA, AUSTRALIA, MADAGASCAR, CUBA, NOVAYA, ANTARCTICA];

// solid black land bits that read as filled in all panels
const UK = [[-10,51],[0,50.5],[1.5,53],[-1,56],[-2,60],[-6,60],[-10,55],[-10,51]];
const NEW_ZEALAND = [[173,-34.5],[178,-37.5],[176,-41],[173,-43],[171,-46.5],[166.5,-46],[170,-43],[173,-40.5],[174.5,-38.5],[173,-34.5]];
const SVALBARD = [[14,78],[18,80.5],[28,80],[24,77],[14,78]];
const GREAT_LAKES = [[-92,47],[-85,48.5],[-79,46],[-76,44],[-82,42],[-87,42],[-88,46],[-92,47]];
const ARCTIC_BLOCK = [[-118,72],[-110,71],[-105,73],[-106,77],[-114,77.5],[-118,75],[-118,72]];
const FAROE = [[-7,63],[-2,63],[-2,67],[-7,67],[-7,63]];
const LAND_FILLS = [UK, NEW_ZEALAND, SVALBARD, GREAT_LAKES, ARCTIC_BLOCK, FAROE];

const COL_X = [[169, 695], [784, 1309], [1398, 1923]];
const ROW_Y = [[145, 613], [757, 1225], [1371, 1838], [1983, 2451]];
const TITLE_Y = [81, 693, 1306, 1920];
const FONT = '"Liberation Serif", serif';
const TXT_X = 0.76;
const FS = 56;

const W = 181, H = 181; // upsampled raster: 2 deg lon, 1 deg lat
const rowOf = d3.scaleLinear().domain(LATS).range(LATS.map((_, i) => i));

function rasterField(f: number[][]) {
  const out = new Float64Array(W * H);
  for (let j = 0; j < H; j++) {
    const r = rowOf(90 - j);
    const r0 = Math.min(Math.floor(r), LATS.length - 2), tr = r - r0;
    for (let i = 0; i < W; i++) {
      const c = ((i * 2) / (LONS[1] - LONS[0])) % LONS.length;
      const c0 = Math.floor(c), tc = c - c0, c1 = (c0 + 1) % LONS.length;
      const top = f[r0][c0] * (1 - tc) + f[r0][c1] * tc;
      const bot = f[r0 + 1][c0] * (1 - tc) + f[r0 + 1][c1] * tc;
      out[j * W + i] = top * (1 - tr) + bot * tr;
    }
  }
  return d3.blur2({ data: out, width: W, height: H }, 2.5).data;
}
function rasterMask(m: string[]) {
  const out = new Float64Array(W * H);
  for (let j = 0; j < H; j++) {
    const r = Math.min(17, Math.floor(j / 10));
    for (let i = 0; i < W; i++) {
      const c = Math.min(23, Math.floor((i * 2) / 15));
      out[j * W + i] = m[r][c] === "1" ? 1 : 0;
    }
  }
  return d3.blur2({ data: out, width: W, height: H }, 2).data;
}

function Panel({ k }: { k: number }) {
  const col = k % 3, row = Math.floor(k / 3);
  const [x0, x1] = COL_X[col], [y0, y1] = ROW_Y[row];
  const x = d3.scaleLinear().domain([0, 360]).range([x0, x1]);
  const y = d3.scaleLinear().domain([90, -90]).range([y0, y1]);
  const toPath = (g: any) => g.coordinates.map((poly: any) => poly.map((ring: any) =>
    "M" + ring.map(([cx, cy]: number[]) => `${x((cx - 0.5) * 2).toFixed(1)},${y(90 - (cy - 0.5)).toFixed(1)}`).join("L") + "Z").join("")).join("");
  const gen = d3.contours().size([W, H]);
  const bands = gen.thresholds(LEVELS)(rasterField(FIELDS[k]) as any);
  const hatch = d3.contours().size([W, H]).thresholds([0.5])(rasterMask(MASKS[k]) as any)[0];
  const line = (off: number) => d3.line<number[]>().x((d) => x(d[0] + off)).y((d) => y(d[1]));
  const clip = `clip${k}`;
  return (
    <g>
      <clipPath id={clip}><rect x={x0} y={y0} width={x1 - x0} height={y1 - y0} /></clipPath>
      <g clipPath={`url(#${clip})`}>
        <rect x={x0} y={y0} width={x1 - x0} height={y1 - y0} fill={BAND_COLORS[0]} />
        {bands.map((b, i) => <path key={i} d={toPath(b)} fill={BAND_COLORS[i + 1]} />)}
        <path d={toPath(hatch)} fill="url(#hatch)" />
        {BLOCKS[k].map((b, i) => (
          <rect key={i} x={x(b[0])} y={y(b[2])} width={x(b[1]) - x(b[0])} height={y(b[3]) - y(b[2])} fill="#000" />
        ))}
        {[0, 360].map((off) => (
          <g key={off}>
            {LAND_FILLS.map((c, i) => <path key={i} d={line(off)(c) as string} fill="#000" stroke="#000" strokeWidth={2} />)}
            {COASTS.map((c, i) => (
              <path key={i} d={line(off)(c) as string} fill="none" stroke="#000" strokeWidth={4.4} strokeLinejoin="round" strokeLinecap="round" />
            ))}
          </g>
        ))}
      </g>
      <rect x={x0} y={y0} width={x1 - x0} height={y1 - y0} fill="none" stroke="#111" strokeWidth={1.6} />
      <line x1={x0 - 14} x2={x1 + 14} y1={y0} y2={y0} stroke="#111" strokeWidth={2.6} />
      <line x1={x0 - 14} x2={x1 + 14} y1={y1} y2={y1} stroke="#111" strokeWidth={2.6} />
      {X_TICKS.map((t, i) => (
        <g key={i} stroke="#222" strokeWidth={2}>
          <line x1={x(t)} x2={x(t)} y1={y0 - 21} y2={y0} />
          <line x1={x(t)} x2={x(t)} y1={y1} y2={y1 + 21} />
        </g>
      ))}
      {Y_TICKS.map((t, i) => (
        <g key={i} stroke="#222" strokeWidth={2.2}>
          <line x1={x0 - 14} x2={x0} y1={y(t)} y2={y(t)} />
          <line x1={x1} x2={x1 + 14} y1={y(t)} y2={y(t)} />
        </g>
      ))}
      <text transform={`translate(${(x0 + x1) / 2},${TITLE_Y[row] + 17}) scale(${TXT_X},1)`} textAnchor="middle" fontFamily={FONT} fontSize={FS} fill="#111">{TITLES[k]}</text>
      {col === 0 && Y_LABELS.map((l, i) => (
        <text key={i} transform={`translate(${x0 - 23},${y(Y_TICKS[i]) + 22}) scale(${TXT_X},1)`} textAnchor="end" fontFamily={FONT} fontSize={FS} fill="#111">{l}</text>
      ))}
      {row === 3 && X_LABELS.map((l, i) => (
        <text key={i} transform={`translate(${x(X_TICKS[i])},2533) scale(${TXT_X - 0.03},1)`} textAnchor="middle" fontFamily={FONT} fontSize={58} fill="#111">{l}</text>
      ))}
    </g>
  );
}

function ColorBar() {
  const x = d3.scaleLinear().domain([-5, 5]).range([487, 1606]);
  const top = 2650, bot = 2676, mid = (top + bot) / 2;
  return (
    <g>
      <path d={`M${x(-5)},${top}L432,${mid}L${x(-5)},${bot}Z`} fill={BAND_COLORS[0]} stroke="#111" strokeWidth={2} />
      <path d={`M${x(5)},${top}L1665,${mid}L${x(5)},${bot}Z`} fill={BAND_COLORS[21]} stroke="#111" strokeWidth={2} />
      {LEVELS.slice(0, -1).map((v, i) => (
        <rect key={i} x={x(v)} y={top} width={x(LEVELS[i + 1]) - x(v)} height={bot - top} fill={BAND_COLORS[i + 1]} stroke="#111" strokeWidth={1.8} />
      ))}
      <line x1={x(-5)} x2={x(5)} y1={top} y2={top} stroke="#111" strokeWidth={2.6} />
      <line x1={x(-5)} x2={x(5)} y1={bot} y2={bot} stroke="#111" strokeWidth={2.6} />
      {BAR_TOP.map((v) => (
        <text key={v} transform={`translate(${x(v)},2621) scale(${TXT_X},1)`} textAnchor="middle" fontFamily={FONT} fontSize={FS} fill="#111">{v}</text>
      ))}
      {BAR_BOTTOM.map((v) => (
        <text key={v} transform={`translate(${x(v)},2742) scale(${TXT_X},1)`} textAnchor="middle" fontFamily={FONT} fontSize={FS} fill="#111">{v}</text>
      ))}
    </g>
  );
}

export default function App() {
  const p = 13;
  return (
    <svg width={1946} height={2759} viewBox="0 0 1946 2759" style={{ position: "absolute", left: 0, top: 0, background: "#fff" }}>
      <defs>
        <pattern id="hatch" patternUnits="userSpaceOnUse" width={p} height={p}>
          <path d={`M-2,2L2,-2M0,${p}L${p},0M${p - 2},${p + 2}L${p + 2},${p - 2}`} stroke="#3a3a3a" strokeOpacity={0.8} strokeWidth={3.4} />
        </pattern>
        <filter id="soft" x="0" y="0" width="100%" height="100%"><feGaussianBlur stdDeviation="0.7" /></filter>
      </defs>
      <g filter="url(#soft)">
        {TITLES.map((_, k) => <Panel key={k} k={k} />)}
        <ColorBar />
      </g>
    </svg>
  );
}
